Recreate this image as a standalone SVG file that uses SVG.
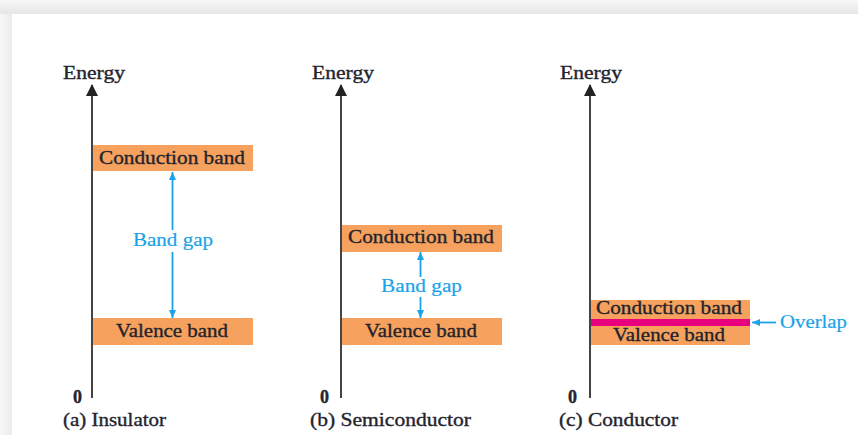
<svg xmlns="http://www.w3.org/2000/svg" width="858" height="435" viewBox="0 0 858 435">
<defs>
<linearGradient id="topg" x1="0" y1="0" x2="0" y2="1"><stop offset="0" stop-color="#f7f7f7"/><stop offset="1" stop-color="#e6e6e6"/></linearGradient>
<linearGradient id="leftg" x1="0" y1="0" x2="1" y2="0"><stop offset="0" stop-color="#f7f7f7"/><stop offset="1" stop-color="#ebebeb"/></linearGradient>
<marker id="ax" viewBox="0 0 12 12" refX="11" refY="6" markerWidth="12" markerHeight="12" markerUnits="userSpaceOnUse" orient="auto"><path d="M0,0 L12,6 L0,12 Z" fill="#222"/></marker>
<marker id="cy" viewBox="0 0 8 8" refX="8" refY="4" markerWidth="8" markerHeight="8" markerUnits="userSpaceOnUse" orient="auto"><path d="M0,0.5 L8,4 L0,7.5 Z" fill="#1aa3e8"/></marker>
</defs>
<style>
.t{font-family:"Liberation Serif","Times New Roman",serif;font-size:18px;fill:#24242e;stroke:#24242e;stroke-width:0.35;}
.z{font-weight:bold;}
.b{fill:#1aa3e8;stroke:#1aa3e8;stroke-width:0.2;}
.band{fill:#f6a25e;}
.axis{stroke:#444;stroke-width:2;fill:none;}
.gap{stroke:#1aa3e8;stroke-width:1.8;fill:none;}
</style>
<rect x="0" y="0" width="858" height="435" fill="#ffffff"/>
<rect x="0" y="0" width="858" height="14" fill="url(#topg)"/>
<rect x="0" y="14" width="12" height="421" fill="url(#leftg)"/>

<g id="connectors">
<line class="axis" x1="92" y1="398" x2="92" y2="85" marker-end="url(#ax)"/>
<line class="axis" x1="341" y1="398" x2="341" y2="85" marker-end="url(#ax)"/>
<line class="axis" x1="590" y1="398" x2="590" y2="85" marker-end="url(#ax)"/>
<line class="gap" x1="172.5" y1="230" x2="172.5" y2="172" marker-end="url(#cy)"/>
<line class="gap" x1="172.5" y1="252" x2="172.5" y2="318" marker-end="url(#cy)"/>
<line class="gap" x1="420.5" y1="277" x2="420.5" y2="252" marker-end="url(#cy)"/>
<line class="gap" x1="420.5" y1="297" x2="420.5" y2="318" marker-end="url(#cy)"/>
<line class="gap" x1="776" y1="322.5" x2="752" y2="322.5" marker-end="url(#cy)"/>
</g>

<g id="panel-a">
<text class="t" x="63" y="79" textLength="62" lengthAdjust="spacingAndGlyphs">Energy</text>
<text class="t z" x="73" y="403" textLength="9" lengthAdjust="spacingAndGlyphs">0</text>
<text class="t" x="63" y="426" textLength="103" lengthAdjust="spacingAndGlyphs">(a) Insulator</text>
</g>
<g id="a-conduction">
<rect class="band" x="93" y="145" width="160" height="26"/>
<text class="t" x="99" y="164" textLength="146" lengthAdjust="spacingAndGlyphs">Conduction band</text>
</g>
<g id="a-valence">
<rect class="band" x="93" y="318" width="160" height="27"/>
<text class="t" x="116" y="337" textLength="112" lengthAdjust="spacingAndGlyphs">Valence band</text>
</g>
<g id="a-gap">
<text class="t b" x="133" y="246" textLength="80" lengthAdjust="spacingAndGlyphs">Band gap</text>
</g>

<g id="panel-b">
<text class="t" x="312" y="79" textLength="62" lengthAdjust="spacingAndGlyphs">Energy</text>
<text class="t z" x="320" y="403" textLength="9" lengthAdjust="spacingAndGlyphs">0</text>
<text class="t" x="310" y="426" textLength="161" lengthAdjust="spacingAndGlyphs">(b) Semiconductor</text>
</g>
<g id="b-conduction">
<rect class="band" x="342" y="225" width="160" height="27"/>
<text class="t" x="348" y="243" textLength="146" lengthAdjust="spacingAndGlyphs">Conduction band</text>
</g>
<g id="b-valence">
<rect class="band" x="342" y="318" width="160" height="27"/>
<text class="t" x="365" y="337" textLength="112" lengthAdjust="spacingAndGlyphs">Valence band</text>
</g>
<g id="b-gap">
<text class="t b" x="381" y="292" textLength="81" lengthAdjust="spacingAndGlyphs">Band gap</text>
</g>

<g id="panel-c">
<text class="t" x="560" y="79" textLength="62" lengthAdjust="spacingAndGlyphs">Energy</text>
<text class="t z" x="568" y="403" textLength="9" lengthAdjust="spacingAndGlyphs">0</text>
<text class="t" x="559" y="426" textLength="119" lengthAdjust="spacingAndGlyphs">(c) Conductor</text>
</g>
<g id="c-bands">
<rect class="band" x="591" y="300" width="159" height="45"/>
<rect x="591" y="319" width="159" height="7" fill="#e8007f"/>
<text class="t" x="596" y="314" textLength="146" lengthAdjust="spacingAndGlyphs">Conduction band</text>
<text class="t" x="613" y="341" textLength="112" lengthAdjust="spacingAndGlyphs">Valence band</text>
</g>
<g id="c-overlap">
<text class="t b" x="780" y="328" textLength="67" lengthAdjust="spacingAndGlyphs">Overlap</text>
</g>
</svg>
